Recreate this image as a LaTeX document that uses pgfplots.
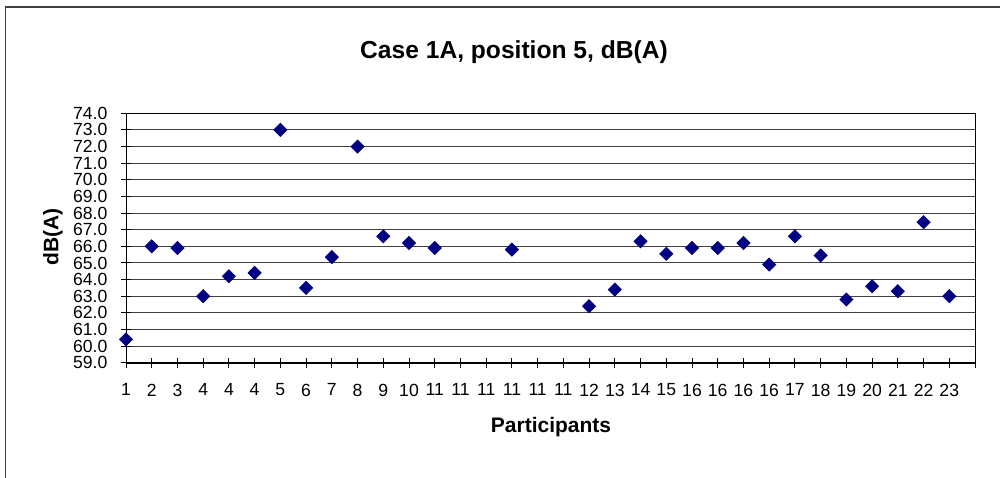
\documentclass[border=0pt]{standalone}
\usepackage{pgfplots}
\pgfplotsset{compat=1.18}
\usepackage{fontspec}
\setmainfont{Liberation Sans}
\definecolor{navy}{RGB}{0,0,128}
\begin{document}
\begin{tikzpicture}
\useasboundingbox (0,0) rectangle (500pt,238.5pt);
\draw[black!75, line width=0.8pt] (2.75pt,-2pt) -- (2.75pt,235pt) -- (502pt,235pt);
\begin{axis}[
  at={(63pt,57.15pt)}, anchor=south west,
  scale only axis, width=424.5pt, height=124.7pt,
  xmin=0, xmax=33, ymin=59, ymax=74,
  clip=false,
  xtick={0,...,33},
  xticklabels={1,2,3,4,4,4,5,6,7,8,9,10,11,11,11,11,11,11,12,13,14,15,16,16,16,16,17,18,19,20,21,22,23,{}},
  ytick={59,60,...,74},
  ymajorgrids, grid style={black!75, line width=0.5pt},
  tick align=center, major tick length=5pt,
  tick style={black, line width=0.5pt},
  xtick pos=bottom, ytick pos=left,
  axis line style={black, line width=0.5pt},
  /pgf/number format/assume math mode=true,
  yticklabel={\pgfmathprintnumber[fixed,fixed zerofill,precision=1]{\tick}},
  ticklabel style={font=\fontsize{8.8}{10}\selectfont},
  xticklabel style={yshift=-4.5pt},
  yticklabel style={xshift=-3.3pt},
]
\addplot[only marks, mark=square*, mark size=2.3pt, mark options={rotate=45, fill=navy, draw=navy}] coordinates {
(0,60.4) (1,66.0) (2,65.9) (3,63.0) (4,64.2) (5,64.4) (6,73.0) (7,63.5) (8,65.35) (9,72.0)
(10,66.6) (11,66.2) (12,65.9) (15,65.8) (18,62.4) (19,63.4) (20,66.3) (21,65.55)
(22,65.9) (23,65.9) (24,66.2) (25,64.9) (26,66.6) (27,65.45) (28,62.8) (29,63.6)
(30,63.3) (31,67.45) (32,63.0)
};
\draw[black, line width=1pt] (rel axis cs:0,0) -- (rel axis cs:1,0);
\end{axis}
\node[font=\fontsize{12.3}{14}\selectfont\bfseries] at (257pt,212.5pt) {Case 1A, position 5, dB(A)};
\node[font=\fontsize{10.5}{12}\selectfont\bfseries] at (275.5pt,25.2pt) {Participants};
\node[font=\fontsize{10.5}{12}\selectfont\bfseries, rotate=90] at (26.5pt,120.2pt) {dB(A)};
\end{tikzpicture}
\end{document}
